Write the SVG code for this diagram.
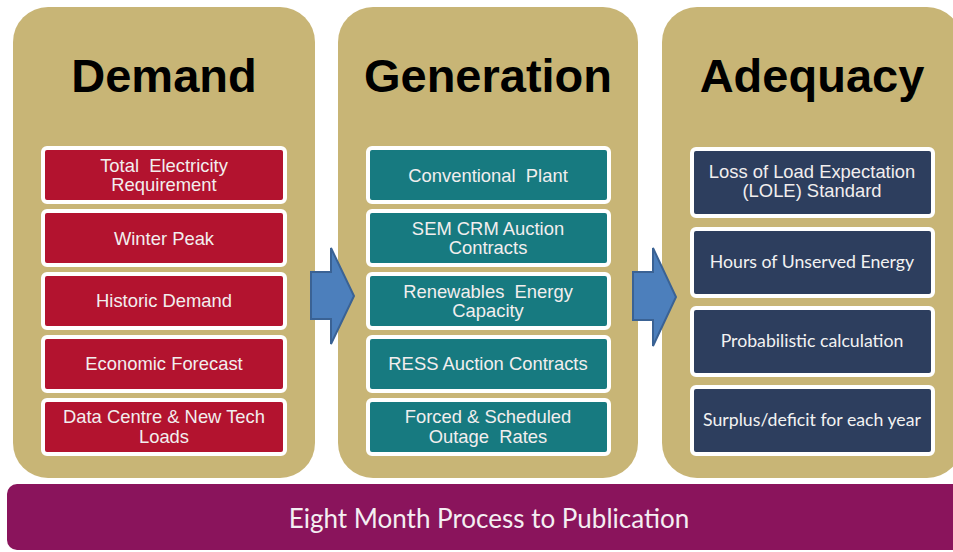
<svg xmlns="http://www.w3.org/2000/svg" width="953" height="552" viewBox="0 0 953 552">
  <style>
    .panel { fill: #c8b576; }
    .title { font-family: "Liberation Sans", Arial, sans-serif; font-weight: bold; font-size: 47px; fill: #000; text-anchor: middle; }
    .box { stroke: #ffffff; stroke-width: 4; }
    .red { fill: #b3132f; }
    .teal { fill: #177a80; }
    .navy { fill: #2d3e5e; }
    .lbl { font-family: "Liberation Sans", Arial, sans-serif; font-size: 18.4px; fill: #f2eeee; text-anchor: middle; }
    .lbl2 { font-family: Lato, "Open Sans", sans-serif; font-size: 17.7px; fill: #f2f2f2; text-anchor: middle; }
    .arrow { fill: #4c7fbc; stroke: #3a6294; stroke-width: 2; stroke-linejoin: miter; }
    .bar { fill: #8a145c; }
    .bartxt { font-family: Lato, "Open Sans", sans-serif; font-size: 26px; fill: #f4eef2; text-anchor: middle; }
  </style>

  <rect width="953" height="552" fill="#ffffff"/>

  <!-- Demand column -->
  <g id="demand">
    <rect class="panel" x="13" y="7" width="302" height="471" rx="35"/>
    <text class="title" x="164" y="92">Demand</text>
    <g id="d1"><rect class="box red" x="43" y="148" width="242" height="54" rx="4"/>
      <text class="lbl" x="164" y="172" xml:space="preserve">Total  Electricity</text><text class="lbl" x="164" y="191">Requirement</text></g>
    <g id="d2"><rect class="box red" x="43" y="211" width="242" height="54" rx="4"/>
      <text class="lbl" x="164" y="245">Winter Peak</text></g>
    <g id="d3"><rect class="box red" x="43" y="274" width="242" height="54" rx="4"/>
      <text class="lbl" x="164" y="307">Historic Demand</text></g>
    <g id="d4"><rect class="box red" x="43" y="337" width="242" height="54" rx="4"/>
      <text class="lbl" x="164" y="370">Economic Forecast</text></g>
    <g id="d5"><rect class="box red" x="43" y="400" width="242" height="54" rx="4"/>
      <text class="lbl" x="164" y="423">Data Centre &amp; New Tech</text><text class="lbl" x="164" y="443">Loads</text></g>
  </g>

  <!-- Generation column -->
  <g id="generation">
    <rect class="panel" x="338" y="7" width="300" height="471" rx="35"/>
    <text class="title" x="488" y="92">Generation</text>
    <g id="g1"><rect class="box teal" x="368" y="148" width="241" height="54" rx="4"/>
      <text class="lbl" x="488" y="182" xml:space="preserve">Conventional  Plant</text></g>
    <g id="g2"><rect class="box teal" x="368" y="211" width="241" height="54" rx="4"/>
      <text class="lbl" x="488" y="235">SEM CRM Auction</text><text class="lbl" x="488" y="254">Contracts</text></g>
    <g id="g3"><rect class="box teal" x="368" y="274" width="241" height="54" rx="4"/>
      <text class="lbl" x="488" y="298" xml:space="preserve">Renewables  Energy</text><text class="lbl" x="488" y="317">Capacity</text></g>
    <g id="g4"><rect class="box teal" x="368" y="337" width="241" height="54" rx="4"/>
      <text class="lbl" x="488" y="370">RESS Auction Contracts</text></g>
    <g id="g5"><rect class="box teal" x="368" y="400" width="241" height="54" rx="4"/>
      <text class="lbl" x="488" y="423">Forced &amp; Scheduled</text><text class="lbl" x="488" y="443" xml:space="preserve">Outage  Rates</text></g>
  </g>

  <!-- Adequacy column -->
  <g id="adequacy">
    <rect class="panel" x="662" y="7" width="300" height="471" rx="35"/>
    <text class="title" x="812" y="92">Adequacy</text>
    <g id="a1"><rect class="box navy" x="692" y="149" width="241" height="67" rx="4"/>
      <text class="lbl" x="812" y="178">Loss of Load Expectation</text><text class="lbl" x="812" y="197">(LOLE) Standard</text></g>
    <g id="a2"><rect class="box navy" x="692" y="229" width="241" height="67" rx="4"/>
      <text class="lbl2" x="812" y="268">Hours of Unserved Energy</text></g>
    <g id="a3"><rect class="box navy" x="692" y="308" width="241" height="67" rx="4"/>
      <text class="lbl2" x="812" y="347">Probabilistic calculation</text></g>
    <g id="a4"><rect class="box navy" x="692" y="387" width="241" height="67" rx="4"/>
      <text class="lbl2" x="812" y="426">Surplus/deficit for each year</text></g>
  </g>

  <!-- Block arrows between stages -->
  <g id="connectors">
    <path class="arrow" d="M311,272 H331 V248 L354,296 L331,344 V319 H311 Z"/>
    <path class="arrow" d="M633,272 H653 V248 L676,297 L653,346 V320 H633 Z"/>
  </g>

  <!-- Timeline bar -->
  <g id="timeline">
    <rect class="bar" x="7" y="484" width="960" height="66" rx="10"/>
    <text class="bartxt" x="489" y="528">Eight Month Process to Publication</text>
  </g>
</svg>
